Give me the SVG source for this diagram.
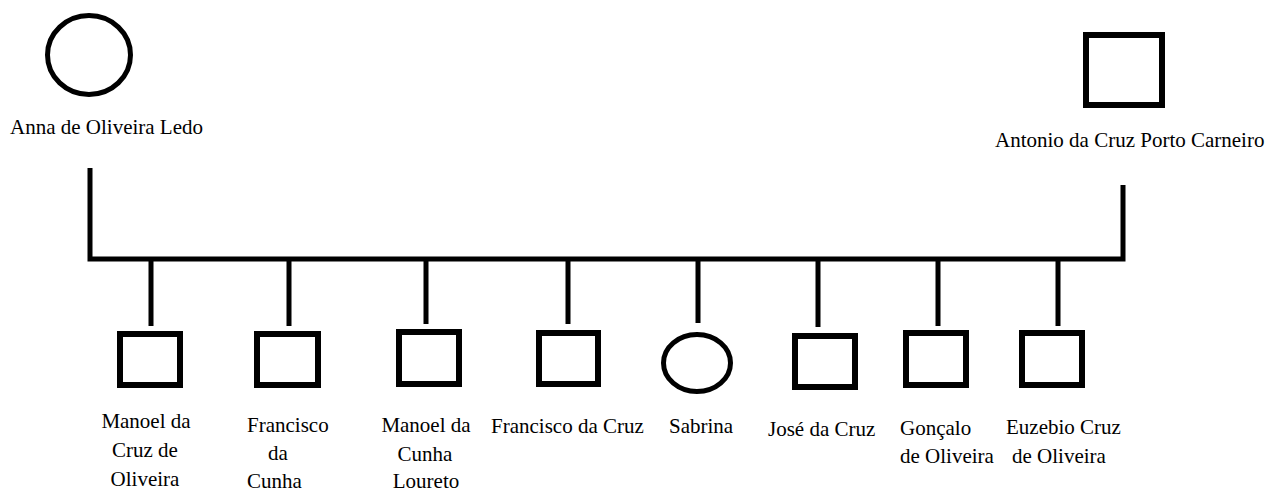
<svg xmlns="http://www.w3.org/2000/svg" width="1267" height="491" viewBox="0 0 1267 491">
<style>
.sym{fill:none;stroke:#000;stroke-width:6}
.circ{fill:none;stroke:#000;stroke-width:5}
.ln{fill:none;stroke:#000;stroke-width:5;stroke-linejoin:miter}
text{font-family:"Liberation Serif","Times New Roman",serif;font-size:21px;fill:#000}
.c{text-anchor:middle}
</style>
<rect width="1267" height="491" fill="#fff"/>
<g id="connectors">
<path class="ln" d="M90,168 V259 H1123 V185"/>
<path class="ln" d="M151,259 V326 M289,259 V326 M426,259 V324 M568,259 V324 M698,259 V323 M818,259 V327 M938,259 V326 M1058,259 V326"/>
</g>
<g id="anna">
<ellipse class="circ" cx="89" cy="55" rx="41.5" ry="39.5"/>
<text x="10" y="134">Anna de Oliveira Ledo</text>
</g>
<g id="antonio">
<rect class="sym" x="1086" y="35" width="76" height="70"/>
<text x="995" y="147">Antonio da Cruz Porto Carneiro</text>
</g>
<g id="manoel-cruz">
<rect class="sym" x="120" y="334" width="60" height="51"/>
<text class="c" x="146" y="428">Manoel da</text>
<text class="c" x="145" y="457">Cruz de</text>
<text class="c" x="145" y="486">Oliveira</text>
</g>
<g id="francisco-cunha">
<rect class="sym" x="257" y="334" width="61" height="51"/>
<text x="247" y="432">Francisco</text>
<text x="268" y="460">da</text>
<text x="247" y="488">Cunha</text>
</g>
<g id="manoel-cunha">
<rect class="sym" x="399" y="332" width="60" height="52"/>
<text class="c" x="426" y="432">Manoel da</text>
<text class="c" x="425" y="461">Cunha</text>
<text class="c" x="426" y="488">Loureto</text>
</g>
<g id="francisco-cruz">
<rect class="sym" x="539" y="333" width="59" height="51"/>
<text x="491" y="433">Francisco da Cruz</text>
</g>
<g id="sabrina">
<ellipse class="circ" cx="697" cy="363" rx="33.5" ry="28.5"/>
<text x="669" y="433">Sabrina</text>
</g>
<g id="jose">
<rect class="sym" x="795" y="336" width="60" height="51"/>
<text x="768" y="436">José da Cruz</text>
</g>
<g id="goncalo">
<rect class="sym" x="906" y="333" width="60" height="52"/>
<text x="900" y="435">Gonçalo</text>
<text x="900" y="463">de Oliveira</text>
</g>
<g id="euzebio">
<rect class="sym" x="1022" y="333" width="60" height="52"/>
<text x="1006" y="434">Euzebio Cruz</text>
<text x="1012" y="463">de Oliveira</text>
</g>
</svg>
